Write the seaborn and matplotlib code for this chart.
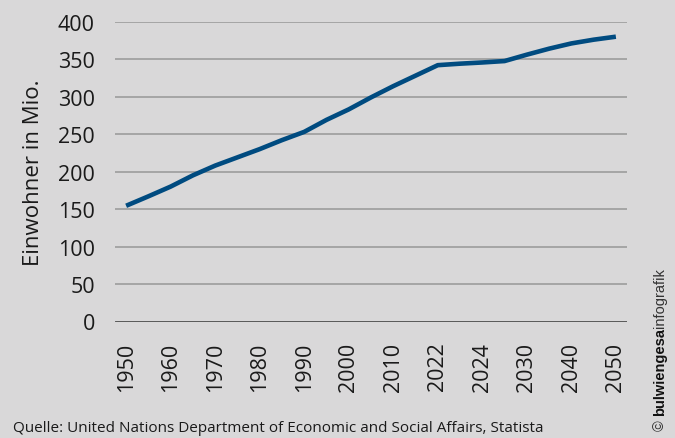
import matplotlib
matplotlib.use("Agg")
import matplotlib.pyplot as plt
import pandas as pd
import seaborn as sns

# data (population, millions)
years = [1950, 1955, 1960, 1965, 1970, 1975, 1980, 1985, 1990, 1995, 2000, 2005,
         2010, 2020, 2022, 2023, 2024, 2025, 2030, 2035, 2040, 2045, 2050]
einwohner = [154.4, 167, 180, 195, 208, 219, 230, 242, 253, 269, 283, 299,
             314, 328, 342, 344, 345.6, 347.5, 356, 364, 371, 376, 380]
tick_years = [1950, 1960, 1970, 1980, 1990, 2000, 2010, 2022, 2024, 2030, 2040, 2050]
y_ticks = [0, 50, 100, 150, 200, 250, 300, 350, 400]

BG = "#d9d8d9"
LINE = "#004b80"
GRID = "#979797"
TEXT = "#1a1a1a"

sns.set_theme(style="white")
plt.rcParams["font.family"] = ["Open Sans", "DejaVu Sans"]

df = pd.DataFrame({"pos": range(len(years)), "year": years, "value": einwohner})

fig = plt.figure(figsize=(6.75, 4.39), dpi=100, facecolor=BG)
ax = fig.add_axes([115 / 675, 1 - 322.5 / 439, (627 - 115) / 675, (322.5 - 22.7) / 439])
ax.set_facecolor(BG)

sns.lineplot(data=df, x="pos", y="value", ax=ax, color=LINE, linewidth=3.3,
             solid_capstyle="butt", zorder=3)

ax.set_xlim(-0.5, len(years) - 0.5)
ax.set_ylim(0, 400)
ax.set_yticks(y_ticks)
ax.set_yticklabels([str(v) for v in y_ticks])
tick_pos = [years.index(y) for y in tick_years]
ax.set_xticks(tick_pos)
ax.set_xticklabels([str(y) for y in tick_years], rotation=90)

for v in y_ticks[1:]:
    ax.axhline(v, color=GRID, linewidth=1.1, zorder=1)
ax.axhline(0, color="#333333", linewidth=1.8, zorder=2)

for s in ax.spines.values():
    s.set_visible(False)
ax.tick_params(axis="both", length=0, labelsize=15.5, colors=TEXT)
ax.tick_params(axis="y", pad=14.5)
ax.tick_params(axis="x", pad=14.5)
ax.set_xlabel("")
ax.set_ylabel("Einwohner in Mio.", fontsize=16, color=TEXT, labelpad=10)

fig.text(13 / 675, 1 - 432 / 439, "Quelle: United Nations Department of Economic and Social Affairs, Statista",
         fontsize=11, color=TEXT, ha="left", va="baseline")

# vertical copyright mark
renderer = fig.canvas.get_renderer()
wm_font = ["Liberation Sans", "DejaVu Sans"]
x0 = 660 / 675
y0 = 1 - 431 / 439
t1 = fig.text(x0, y0, "© ", fontsize=10.5, family=wm_font, color="#333333", rotation=90,
              ha="center", va="bottom")
ext = t1.get_window_extent(renderer)
y1 = y0 + ext.height / fig.bbox.height
t2 = fig.text(x0, y1, "bulwiengesa", fontsize=10.5, family=wm_font, fontweight="bold",
              color="#111111", rotation=90, ha="center", va="bottom")
ext = t2.get_window_extent(renderer)
y2 = y1 + ext.height / fig.bbox.height
fig.text(x0, y2, "infografik", fontsize=10.5, family=wm_font, color="#333333", rotation=90,
         ha="center", va="bottom")

fig.savefig("out.png", dpi=100, facecolor=BG)
